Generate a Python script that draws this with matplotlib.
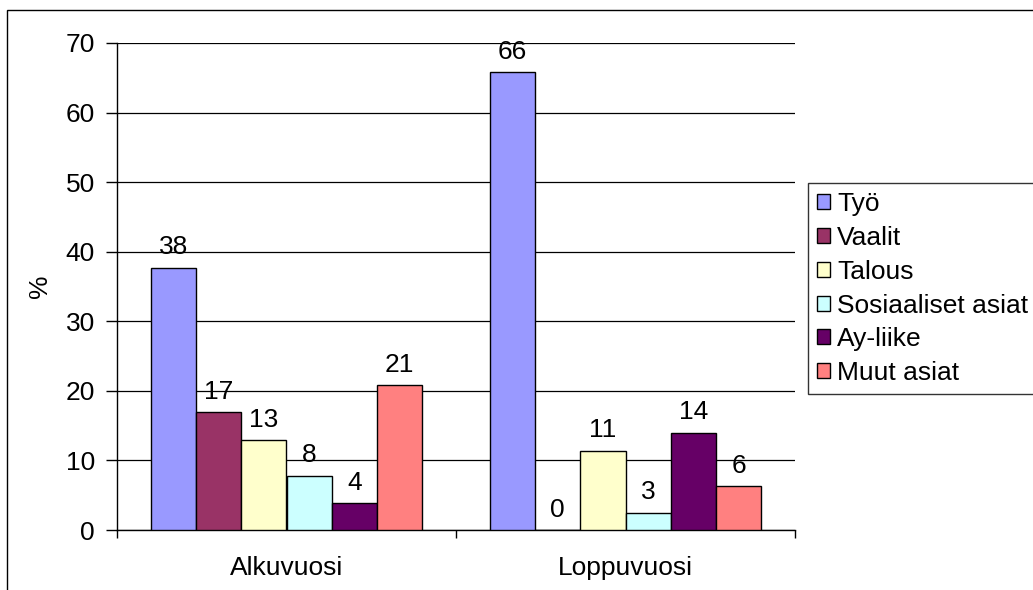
import matplotlib
matplotlib.use("Agg")
import matplotlib.pyplot as plt
from matplotlib.patches import Rectangle
import numpy as np

plt.rcParams['font.family'] = ['Liberation Sans', 'DejaVu Sans']

categories = ["Alkuvuosi", "Loppuvuosi"]
series_names = ["Työ", "Vaalit", "Talous", "Sosiaaliset asiat", "Ay-liike", "Muut asiat"]
tyo = [37.7, 65.8]
vaalit = [16.9, 0.0]
talous = [12.9, 11.4]
sosiaaliset = [7.8, 2.5]
ayliike = [3.9, 14.0]
muut = [20.8, 6.3]
series_values = [tyo, vaalit, talous, sosiaaliset, ayliike, muut]
series_labels = [["38", "66"], ["17", "0"], ["13", "11"], ["8", "3"], ["4", "14"], ["21", "6"]]
colors = ["#9999FF", "#993366", "#FFFFCC", "#CCFFFF", "#660066", "#FF8080"]
yticks = [0, 10, 20, 30, 40, 50, 60, 70]

FS = 19
W, H = 1033, 590
fig = plt.figure(figsize=(W / 100, H / 100), dpi=100)
# outer chart border
fig.patches.append(Rectangle((7 / W, -0.1), 1.2, 1 - 10 / H + 0.1, transform=fig.transFigure,
                             fill=False, edgecolor='black', lw=1.0))

left, right, top, bottom = 117, 795, 43, 530
ax = fig.add_axes([left / W, 1 - bottom / H, (right - left) / W, (bottom - top) / H])

n = len(series_names)
bw = 1 / (n + 1.5)
x = np.arange(len(categories)) + 0.5
for i, (vals, lab, c, name) in enumerate(zip(series_values, series_labels, colors, series_names)):
    pos = x - n * bw / 2 + bw * (i + 0.5)
    ax.bar(pos, vals, width=bw, color=c, edgecolor='black', linewidth=1.0, label=name, zorder=3)
    for p, v, t in zip(pos, vals, lab):
        ax.annotate(t, (p, v), xytext=(0, 6), textcoords='offset points',
                    ha='center', va='bottom', fontsize=FS, zorder=4)

ax.set_xlim(0, len(categories))
ax.set_ylim(0, 70)
ax.set_yticks(yticks)
ax.set_yticklabels([str(t) for t in yticks], fontsize=FS)
ax.yaxis.grid(True, color='black', linewidth=0.9, zorder=0)
ax.set_xticks([0, 1, 2])
ax.set_xticklabels([])
ax.set_xticks(x, minor=True)
ax.set_xticklabels(categories, minor=True, fontsize=FS)
ax.tick_params(axis='x', which='minor', length=0, pad=19)
ax.tick_params(axis='x', which='major', length=6, direction='out', width=1)
ax.tick_params(axis='y', length=8, direction='out', width=1, pad=8)
for s in ['top', 'right']:
    ax.spines[s].set_visible(False)
for s in ['left', 'bottom']:
    ax.spines[s].set_linewidth(1.0)
ax.set_ylabel('%', fontsize=FS, labelpad=10)

leg = ax.legend(loc='upper left', bbox_to_anchor=(808 / W, 1 - 183 / H), bbox_transform=fig.transFigure,
                fontsize=FS, frameon=True, fancybox=False, edgecolor='black', borderpad=0.35,
                handlelength=0.5, handleheight=0.5, handletextpad=0.25, labelspacing=0.37,
                borderaxespad=0)
leg.get_frame().set_linewidth(1.0)

fig.savefig('out.png', dpi=100)
